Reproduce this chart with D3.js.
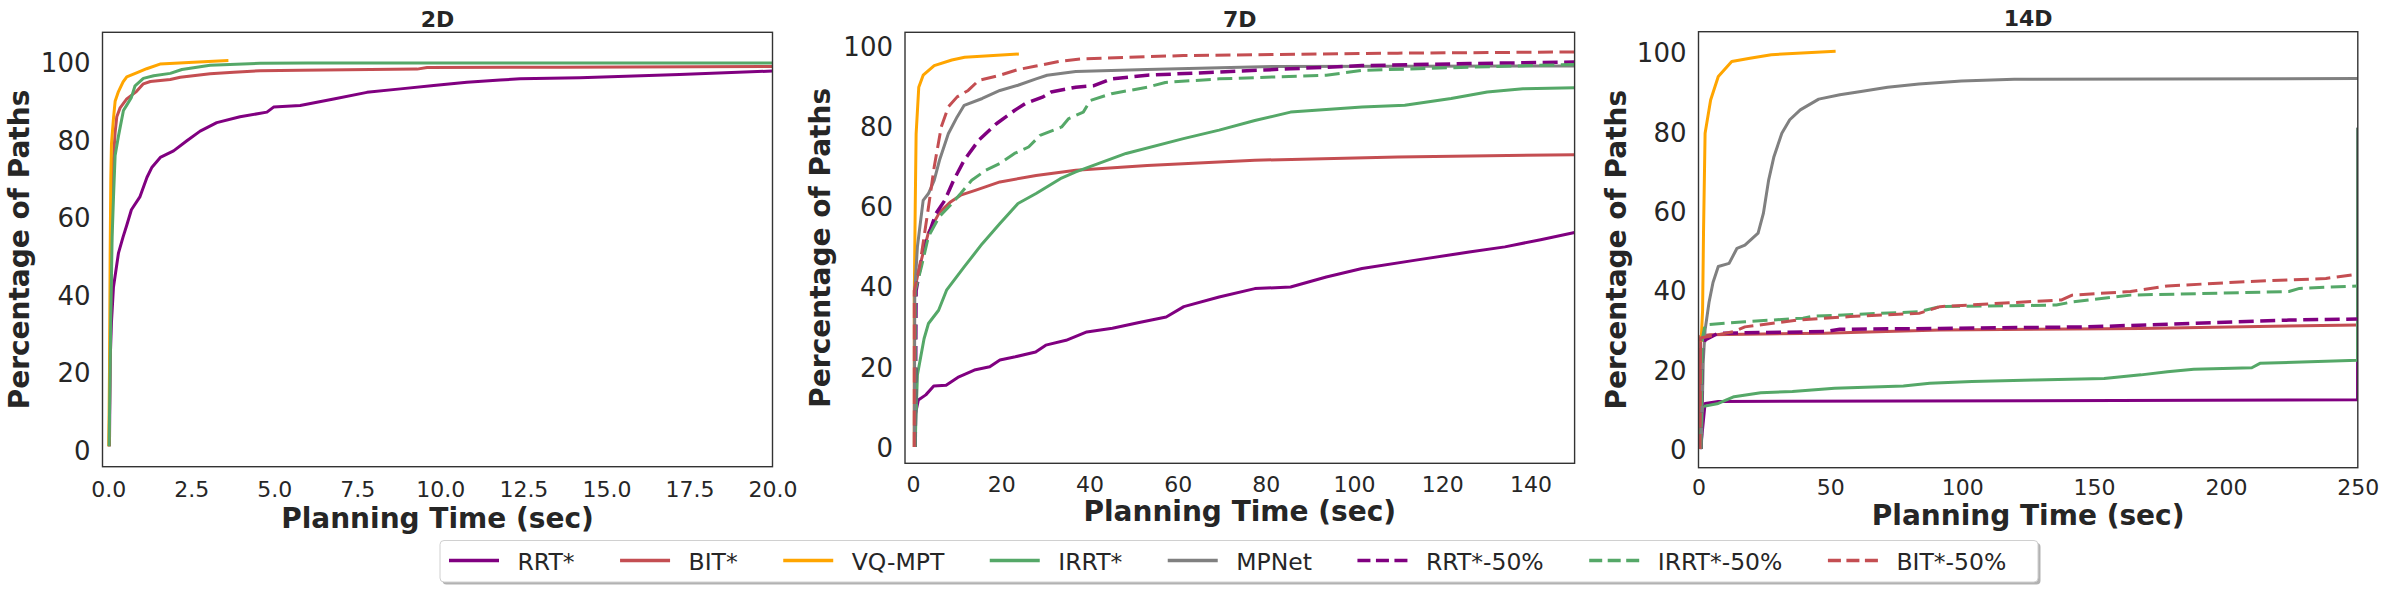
<!DOCTYPE html>
<html>
<head>
<meta charset="utf-8">
<script src="https://cdn.jsdelivr.net/npm/d3@7"></script>
<style>
  body { margin: 0; background: #fff; }
  svg { display: block; font-family: "DejaVu Sans", sans-serif; }
</style>
</head>
<body>
<svg id="chart" width="2388" height="590"></svg>
<script>
// ---- data: [planning time (sec), percentage of paths] ----
const rrt2D  = [[0.04,1],[0.06,23],[0.1,33],[0.16,42],[0.31,50.8],[0.45,55],[0.56,58],[0.7,62],[0.96,65.4],[1.17,70.4],[1.32,73],[1.57,75.5],[1.97,77.2],[2.37,79.8],[2.77,82.3],[3.27,84.5],[3.97,86],[4.78,87.2],[4.98,88.5],[5.78,88.9],[6.79,90.6],[7.79,92.3],[8.8,93.2],[9.8,94.1],[10.8,94.9],[11.8,95.5],[12.4,95.8],[14.2,96.1],[17.2,96.9],[20,97.8]];
const bit2D  = [[0.03,1],[0.08,40],[0.12,65],[0.16,75],[0.21,82],[0.26,86],[0.36,88.3],[0.56,90.6],[0.71,91.6],[0.85,92.5],[1.06,94.5],[1.27,95.1],[1.87,95.6],[2.17,96.2],[3.07,97.1],[3.78,97.5],[4.57,97.9],[5.78,98],[9.3,98.3],[9.6,98.7],[13.6,98.8],[20,99]];
const vq2D   = [[0.02,1],[0.04,20],[0.06,50],[0.08,70],[0.1,79],[0.16,85.5],[0.21,90],[0.31,92.5],[0.45,95],[0.56,96.3],[0.91,97.5],[1.16,98.4],[1.56,99.6],[2.0,99.8],[2.57,100.1],[3.62,100.5]];
const irrt2D = [[0.03,1],[0.08,35],[0.12,55],[0.16,65],[0.21,76],[0.31,81],[0.46,87.6],[0.56,89],[0.7,91],[0.81,94],[1.06,95.9],[1.37,96.6],[1.87,97.2],[2.22,98.2],[3.07,99.3],[4.57,99.8],[6,99.9],[20,99.9]];

const rrt7D   = [[0.4,0],[0.5,8],[1.2,11.7],[2.9,13],[4.7,15.2],[7.5,15.4],[10.4,17.5],[13.9,19.2],[17.4,20],[19.7,21.7],[23.2,22.5],[27.8,23.7],[30.1,25.4],[34.7,26.6],[39.4,28.7],[45.2,29.6],[51,31],[57.4,32.4],[61.4,35],[69.4,37.4],[77.5,39.5],[85.6,39.9],[93.7,42.4],[101.8,44.5],[114,46.6],[126.1,48.6],[134.2,49.9],[142.3,51.7],[150,53.5]];
const bit7D   = [[0.3,0],[0.3,39],[1.5,45],[3.5,53.5],[6,58.5],[8.4,61],[10.8,62.8],[14.1,64],[19.7,66.1],[27.9,67.7],[36.9,69],[53.1,70.2],[77.5,71.5],[109.9,72.3],[150,72.9]];
const vq7D    = [[0.3,0],[0.3,39],[0.5,60],[0.7,78],[1.3,89.7],[2.3,92.7],[4.8,95.1],[8.8,96.5],[11.7,97.2],[24,98]];
const irrt7D  = [[0.5,0],[0.6,5],[1.0,18],[1.75,22.5],[2.5,27],[3.5,30.8],[5.8,34.1],[7.6,39.1],[11.6,44.9],[15.7,50.7],[19.7,55.7],[23.8,60.7],[27.9,63.2],[33.4,66.9],[36.9,68.6],[48.3,73.2],[61.3,76.9],[69.4,79],[77.5,81.4],[85.6,83.5],[101.8,84.8],[111.5,85.2],[122,86.9],[130.2,88.5],[138.3,89.3],[150,89.6]];
const mpnet7D = [[0.3,0],[0.4,39],[1,50],[2.3,61.5],[3.5,63.2],[4.8,66.5],[6,71.5],[8,78.1],[10,82.3],[11.6,85.2],[15.7,86.9],[19.7,88.9],[23.8,90.2],[27.9,91.8],[30.4,92.7],[36.9,93.6],[53,94.1],[81.5,94.9],[150,95]];
const rrtH7D  = [[0.5,0],[0.7,39],[2.3,49],[5.2,58.2],[7.2,61.5],[9.2,66.5],[11.6,71.5],[14.9,76.5],[18.9,80.6],[23,83.9],[25.4,85.6],[29.5,87.3],[31.3,88.5],[36.9,89.7],[41,90.1],[45,91.8],[53.1,92.7],[69.4,93.5],[85.6,94.3],[101.8,95.1],[126.1,95.6],[150,96]];
const irrtH7D = [[0.5,0],[0.5,39],[1.9,44.9],[3.5,52.5],[6,57.5],[8.4,60.2],[10.8,63.2],[13.3,66.5],[16.5,69],[19.7,70.7],[23,73.2],[26.2,74.8],[28.8,77.7],[33.7,79.8],[35.3,81.9],[38.6,83.5],[40.2,86.4],[45,88.1],[53.1,89.7],[57.2,90.9],[69.4,91.8],[93.7,92.7],[101.8,93.9],[126.1,94.7],[150,95.4]];
const bitH7D  = [[0.3,0],[0.3,39],[1.5,45],[3.5,59.8],[4.8,69.8],[6.4,79.8],[8,84.8],[10,87.3],[12.5,88.9],[14.9,91.4],[19.7,92.7],[23.8,94.1],[27.9,95],[33.4,96.2],[38.6,96.8],[61.3,97.6],[109.9,98.2],[150,98.5]];

const rrt14D   = [[0.8,0],[2.5,11.5],[7.5,12],[249.9,12.4],[250,81]];
const bit14D   = [[0.6,0],[0.8,28.5],[4.4,28.8],[47.6,29.2],[91.6,30],[167.8,30.4],[250,31.3]];
const vq14D    = [[1.0,27],[1.55,35],[1.9,54.4],[2.5,79.6],[4.6,88],[7.5,93.9],[12.6,97.7],[19.5,98.5],[27.6,99.4],[52,100.3]];
const irrt14D  = [[0.5,0],[1.5,10.7],[7.5,11.5],[13.5,13.2],[23.6,14.2],[35.6,14.5],[51.6,15.3],[77.7,15.9],[87.7,16.6],[103.7,17],[127.7,17.4],[153.8,17.8],[167.8,18.7],[177.8,19.5],[187.8,20.1],[209.8,20.5],[212.9,21.6],[249.9,22.4],[250,81]];
const mpnet14D = [[1.1,0],[1.8,22],[2.5,30],[4,37],[5.5,42],[7.5,46],[11.6,46.8],[14.6,50.6],[17.6,51.4],[22.6,54.4],[24.6,59.4],[26.6,67.8],[28.6,73.7],[31.6,79.6],[34.6,83],[38.6,85.5],[45.6,88.2],[53.6,89.3],[61.6,90.1],[71.7,91.2],[83.6,92],[99.7,92.8],[119.7,93.2],[250,93.4]];
const rrtH14D  = [[1.0,0],[1.5,25],[2.5,27.5],[7.5,29.2],[47.6,29.6],[53.6,30.2],[91.6,30.4],[147.7,30.8],[187.8,31.7],[223.9,32.5],[250,32.8]];
const irrtH14D = [[1.0,0],[1.5,28],[2.5,31.3],[17.6,32.1],[39.6,33],[43.6,33.5],[83.6,34.6],[91.6,35.9],[135.7,36.3],[141.7,37.1],[163.8,38.8],[223.9,39.7],[227.9,40.5],[250,41.1]];
const bitH14D  = [[0.6,0],[0.8,28],[13.5,29.6],[17.6,30.8],[37.6,32.5],[57.6,33.4],[83.6,34.2],[91.6,35.9],[137.7,37.6],[141.7,38.8],[163.8,39.7],[177.8,41.1],[207.9,42.2],[237.9,43],[250,44.1]];

const methods   = ['RRT*','BIT*','VQ-MPT','IRRT*','MPNet','RRT*-50%','IRRT*-50%','BIT*-50%'];
const yTicks    = [0,20,40,60,80,100];
const xTicks2D  = [0,2.5,5,7.5,10,12.5,15,17.5,20];
const xTicks7D  = [0,20,40,60,80,100,120,140];
const xTicks14D = [0,50,100,150,200,250];

// ---- styles ----
const style = {
  'RRT*':      {color:'#800080', dash:null, w:3},
  'BIT*':      {color:'#C44E52', dash:null, w:3},
  'VQ-MPT':    {color:'#FFA500', dash:null, w:3},
  'IRRT*':     {color:'#55A868', dash:null, w:3},
  'MPNet':     {color:'#808080', dash:null, w:3},
  'RRT*-50%':  {color:'#800080', dash:'15,6.5', w:3.5},
  'IRRT*-50%': {color:'#55A868', dash:'15,6.5', w:3},
  'BIT*-50%':  {color:'#C44E52', dash:'15,6.5', w:3}
};
const ink = '#262626';

const panels = [
  {title:'2D', x0:102.5, x1:772.5, y0:32.3, y1:466.7, xDom:[-0.17,20], yDom:[-4.3,107.8],
   xTicks:xTicks2D, fmt:d3.format('.1f'), yLabX:29, xTickY:496.7, xLabY:528, titleY:26.5,
   series:{'RRT*':rrt2D,'BIT*':bit2D,'VQ-MPT':vq2D,'IRRT*':irrt2D}},
  {title:'7D', x0:905, x1:1574.6, y0:32.3, y1:463.3, xDom:[-1.82,150], yDom:[-4.06,103.4],
   xTicks:xTicks7D, fmt:d3.format('d'), yLabX:830, xTickY:491.7, xLabY:521, titleY:26.5,
   series:{'RRT*':rrt7D,'BIT*':bit7D,'VQ-MPT':vq7D,'IRRT*':irrt7D,'MPNet':mpnet7D,
           'RRT*-50%':rrtH7D,'IRRT*-50%':irrtH7D,'BIT*-50%':bitH7D}},
  {title:'14D', x0:1698.5, x1:2357.8, y0:31.7, y1:467.7, xDom:[0,250], yDom:[-4.7,105.2],
   xTicks:xTicks14D, fmt:d3.format('d'), yLabX:1626, xTickY:495, xLabY:525, titleY:26,
   series:{'RRT*':rrt14D,'BIT*':bit14D,'VQ-MPT':vq14D,'IRRT*':irrt14D,'MPNet':mpnet14D,
           'RRT*-50%':rrtH14D,'IRRT*-50%':irrtH14D,'BIT*-50%':bitH14D}}
];

const svg = d3.select('#chart');

panels.forEach((p, i) => {
  const x = d3.scaleLinear().domain(p.xDom).range([p.x0, p.x1]);
  const y = d3.scaleLinear().domain(p.yDom).range([p.y1, p.y0]);
  const g = svg.append('g');

  g.append('clipPath').attr('id', 'clip' + i)
    .append('rect')
      .attr('x', p.x0).attr('y', p.y0)
      .attr('width', p.x1 - p.x0).attr('height', p.y1 - p.y0);

  const line = d3.line().x(d => x(d[0])).y(d => y(d[1]));
  const lines = g.append('g').attr('clip-path', `url(#clip${i})`);
  methods.filter(m => p.series[m]).forEach(m => {
    lines.append('path')
      .datum(p.series[m])
      .attr('d', line)
      .attr('fill', 'none')
      .attr('stroke', style[m].color)
      .attr('stroke-width', style[m].w)
      .attr('stroke-dasharray', style[m].dash)
      .attr('stroke-linejoin', 'round');
  });

  // axes, no tick marks (seaborn white style)
  const yAxis = g.append('g')
    .attr('transform', `translate(${p.x0},0)`)
    .call(d3.axisLeft(y).tickValues(yTicks).tickSize(0).tickPadding(12));
  yAxis.selectAll('text').attr('font-size', 26).attr('fill', ink)
    .attr('font-family', '"DejaVu Sans", sans-serif').attr('dy', '0.36em');

  const xAxis = g.append('g')
    .attr('transform', `translate(0,${p.y1})`)
    .call(d3.axisBottom(x).tickValues(p.xTicks).tickFormat(p.fmt).tickSize(0));
  xAxis.selectAll('text').attr('font-size', 22).attr('fill', ink)
    .attr('font-family', '"DejaVu Sans", sans-serif')
    .attr('y', p.xTickY - p.y1).attr('dy', null);
  [yAxis, xAxis].forEach(a => a.select('.domain').remove());

  g.append('rect')
    .attr('x', p.x0).attr('y', p.y0)
    .attr('width', p.x1 - p.x0).attr('height', p.y1 - p.y0)
    .attr('fill', 'none').attr('stroke', '#333').attr('stroke-width', 1.4);

  g.append('text')
    .attr('x', (p.x0 + p.x1) / 2).attr('y', p.titleY)
    .attr('text-anchor', 'middle').attr('font-size', 22).attr('font-weight', 'bold')
    .attr('fill', ink).text(p.title);

  g.append('text')
    .attr('x', (p.x0 + p.x1) / 2).attr('y', p.xLabY)
    .attr('text-anchor', 'middle').attr('font-size', 28).attr('font-weight', 'bold')
    .attr('fill', ink).text('Planning Time (sec)');

  g.append('text')
    .attr('transform', `translate(${p.yLabX},${(p.y0 + p.y1) / 2}) rotate(-90)`)
    .attr('text-anchor', 'middle').attr('font-size', 28).attr('font-weight', 'bold')
    .attr('fill', ink).text('Percentage of Paths');
});

// ---- legend ----
const leg = svg.append('g');
const box = {x:440, y:540.5, w:1598, h:41.5};
leg.append('rect')
  .attr('x', box.x + 2.5).attr('y', box.y + 2.5).attr('width', box.w).attr('height', box.h)
  .attr('rx', 4).attr('fill', '#000').attr('opacity', 0.3);
leg.append('rect')
  .attr('x', box.x).attr('y', box.y).attr('width', box.w).attr('height', box.h)
  .attr('rx', 4).attr('fill', '#fff').attr('stroke', '#d0d0d0').attr('stroke-width', 1);

let lx = 449;
const ly = 560.5;
methods.forEach(m => {
  leg.append('line')
    .attr('x1', lx).attr('x2', lx + 50).attr('y1', ly).attr('y2', ly)
    .attr('stroke', style[m].color).attr('stroke-width', 3.5)
    .attr('stroke-dasharray', style[m].dash ? '13,5.5' : null);
  const t = leg.append('text')
    .attr('x', lx + 68.5).attr('y', ly + 9)
    .attr('font-size', 23.5).attr('fill', ink).text(m);
  lx = lx + 68.5 + t.node().getComputedTextLength() + 45.5;
});
</script>
</body>
</html>
